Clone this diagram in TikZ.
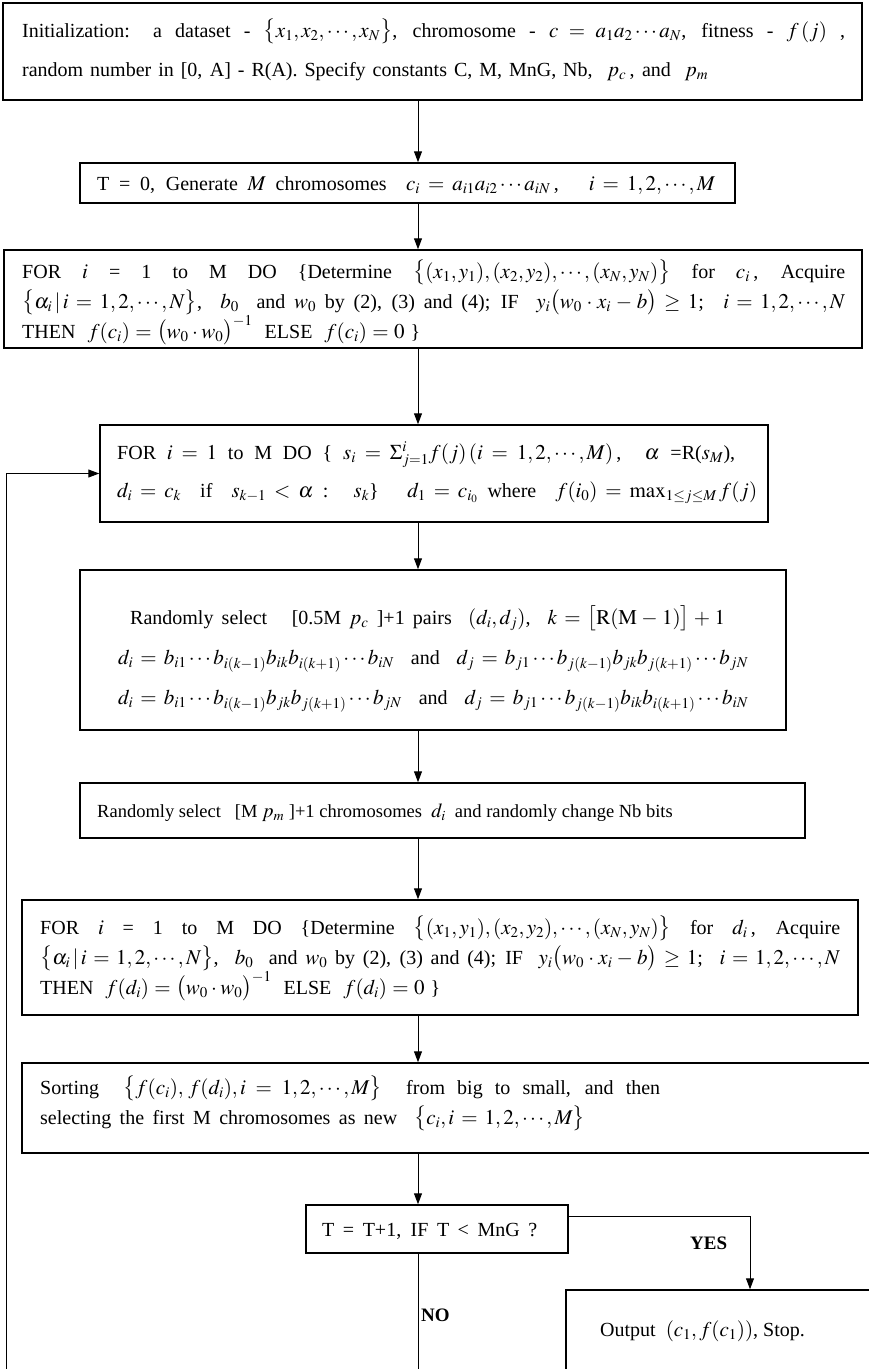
\documentclass[tikz,border=0pt]{standalone}
\usepackage{mathptmx}
\usepackage{fontspec}
\setmainfont{Liberation Serif}
\DeclareMathSizes{20}{21}{15}{11}
\DeclareMathSizes{18.5}{20}{14}{10}
\usetikzlibrary{arrows.meta}
\newcommand\fline[2]{\hbox to #1pt{#2}}
\tikzset{
  box/.style={draw, line width=1.5pt, inner sep=0pt},
  arr/.style={line width=1pt, -{Triangle[length=11pt,width=8pt]}},
  txt/.style={inner sep=0pt, anchor=base west, font=\fontsize{20}{22}\selectfont},
  stxt/.style={inner sep=0pt, anchor=base west, font=\fontsize{18.5}{20}\selectfont},
  lbl/.style={inner sep=0pt, anchor=base west, font=\fontsize{19}{22}\selectfont\bfseries}
}
\begin{document}
\begin{tikzpicture}[x=1pt,y=-1pt]
\useasboundingbox (0,0) rectangle (869,1369);
\clip (0,0) rectangle (869,1369);
\coordinate (colx) at (418,0);
\coordinate (yescol) at (750,0);
\coordinate (loopbot) at (6,1390);

% boxes
\node[box, minimum width=859pt, minimum height=97pt] (b1) at (432.5,51.5) {};
\node[box, minimum width=655pt, minimum height=40pt] (b2) at (407.5,183) {};
\node[box, minimum width=858pt, minimum height=98pt] (b3) at (433,299) {};
\node[box, minimum width=668pt, minimum height=97pt] (b4) at (434,473.5) {};
\node[box, minimum width=706pt, minimum height=160pt] (b5) at (433,650) {};
\node[box, minimum width=725pt, minimum height=55pt] (b6) at (442.5,810.5) {};
\node[box, minimum width=836pt, minimum height=115pt] (b7) at (440,957.5) {};
\node[box, minimum width=858pt, minimum height=90pt] (b8) at (451,1108) {};
\node[box, minimum width=262pt, minimum height=48pt] (dec) at (437,1229) {};
\node[box, minimum width=314pt, minimum height=130pt] (out) at (723,1355) {};

% box 1
\node[txt] (t1a) at (22,37) {\fline{823}{Initialization: a dataset - $\bigl\{x_1,x_2,\cdots,x_N\bigr\}$, chromosome - $c=a_1a_2\cdots a_N$, fitness - $f\,(j)$ ,}};
\node[txt] (t1b) at (22,76) {\fline{686}{random number in [0, A] - R(A). Specify constants C, M, MnG, Nb, \ $p_c$\,, and \ $p_m$}};
% box 2
\node[txt] (t2) at (97,190) {\fline{618}{T = 0, Generate $M$ chromosomes \ $c_i=a_{i1}a_{i2}\cdots a_{iN}$\,, \ \ $i=1,2,\cdots,M$}};
% box 3
\node[txt] (t3a) at (22,278) {\fline{823}{FOR \ $i$ \ = \ 1 \ to \ M \ DO \ \{Determine \ $\bigl\{(x_1,y_1),(x_2,y_2),\cdots,(x_N,y_N)\bigr\}$ \ for \ $c_i$\,, \ Acquire}};
\node[txt] (t3b) at (22,308) {\fline{823}{$\bigl\{\alpha_i\,|\,i=1,2,\cdots,N\bigr\}$, \ $b_0$ \ and $w_0$ by (2), (3) and (4); IF \ $y_i\bigl(w_0\cdot x_i-b\bigr)\ge 1$; \ $i=1,2,\cdots,N$}};
\node[txt] (t3c) at (22,338) {\fline{398}{THEN \ $f(c_i)=\bigl(w_0\cdot w_0\bigr)^{-1}$ \ ELSE \ $f(c_i)=0$ \}}};
% box 4
\node[txt] (t4a) at (117,459) {\fline{618}{FOR $i=1$ to M DO \{ $s_i=\Sigma^{i}_{j=1}f(j)\,(i=1,2,\cdots,M)$\,, \ $\alpha$ =R($s_M$),}};
\node[txt] (t4b) at (117,497) {\fline{640}{$d_i=c_k$ \ if \ $s_{k-1}<\alpha$ : \ $s_k$\} \ \ $d_1=c_{i_0}$ where \ $f(i_0)=\max_{1\le j\le M}f(j)$}};
% box 5
\node[txt] (t5a) at (130,624) {\fline{595}{Randomly select \ \ [0.5M $p_c$ ]+1 pairs \ $(d_i,d_j)$, \ $k=\bigl[\mathrm{R}(\mathrm{M}-1)\bigr]+1$}};
\node[txt] (t5b) at (118,664) {\fline{630}{$d_i=b_{i1}\cdots b_{i(k-1)}b_{ik}b_{i(k+1)}\cdots b_{iN}$ \ and \ $d_j=b_{j1}\cdots b_{j(k-1)}b_{jk}b_{j(k+1)}\cdots b_{jN}$}};
\node[txt] (t5c) at (118,704) {\fline{630}{$d_i=b_{i1}\cdots b_{i(k-1)}b_{jk}b_{j(k+1)}\cdots b_{jN}$ \ and \ $d_j=b_{j1}\cdots b_{j(k-1)}b_{ik}b_{i(k+1)}\cdots b_{iN}$}};
% box 6
\node[stxt] (t6) at (97,817) {Randomly select \ \ [M $p_m$ ]+1 chromosomes \ $d_i$ \ and randomly change Nb bits};
% box 7
\node[txt] (t7a) at (40,934) {\fline{800}{FOR \ $i$ \ = \ 1 \ to \ M \ DO \ \{Determine \ $\bigl\{(x_1,y_1),(x_2,y_2),\cdots,(x_N,y_N)\bigr\}$ \ for \ $d_i$\,, \ Acquire}};
\node[txt] (t7b) at (40,964) {\fline{800}{$\bigl\{\alpha_i\,|\,i=1,2,\cdots,N\bigr\}$, \ $b_0$ \ and $w_0$ by (2), (3) and (4); IF \ $y_i\bigl(w_0\cdot x_i-b\bigr)\ge 1$; \ $i=1,2,\cdots,N$}};
\node[txt] (t7c) at (40,994) {\fline{400}{THEN \ $f(d_i)=\bigl(w_0\cdot w_0\bigr)^{-1}$ \ ELSE \ $f(d_i)=0$ \}}};
% box 8
\node[txt] (t8a) at (40,1094) {\fline{620}{Sorting \ $\bigl\{f(c_i),\,f(d_i),i=1,2,\cdots,M\bigr\}$ \ from big to small, and then}};
\node[txt] (t8b) at (40,1124) {\fline{545}{selecting the first M chromosomes as new \ $\bigl\{c_i,i=1,2,\cdots,M\bigr\}$}};
% decision and output
\node[txt] (td) at (322,1236) {\fline{215}{T = T+1, IF T < MnG ?}};
\node[txt] (to) at (600,1336) {Output \ $(c_1, f(c_1))$, Stop.};
\node[lbl] (yes) at (690,1249) {YES};
\node[lbl] (no) at (421,1321) {NO};

% connectors
\draw[arr] (b1.south -| colx) -- (b2.north -| colx);
\draw[arr] (b2.south -| colx) -- (b3.north -| colx);
\draw[arr] (b3.south -| colx) -- (b4.north -| colx);
\draw[arr] (b4.south -| colx) -- (b5.north -| colx);
\draw[arr] (b5.south -| colx) -- (b6.north -| colx);
\draw[arr] (b6.south -| colx) -- (b7.north -| colx);
\draw[arr] (b7.south -| colx) -- (b8.north -| colx);
\draw[arr] (b8.south -| colx) -- (dec.north -| colx);
\draw[arr] ([yshift=-12pt]dec.north east) -| (out.north -| yescol);
\draw[arr] (dec.south -| colx) |- (loopbot) |- (b4.west);
\end{tikzpicture}
\end{document}
